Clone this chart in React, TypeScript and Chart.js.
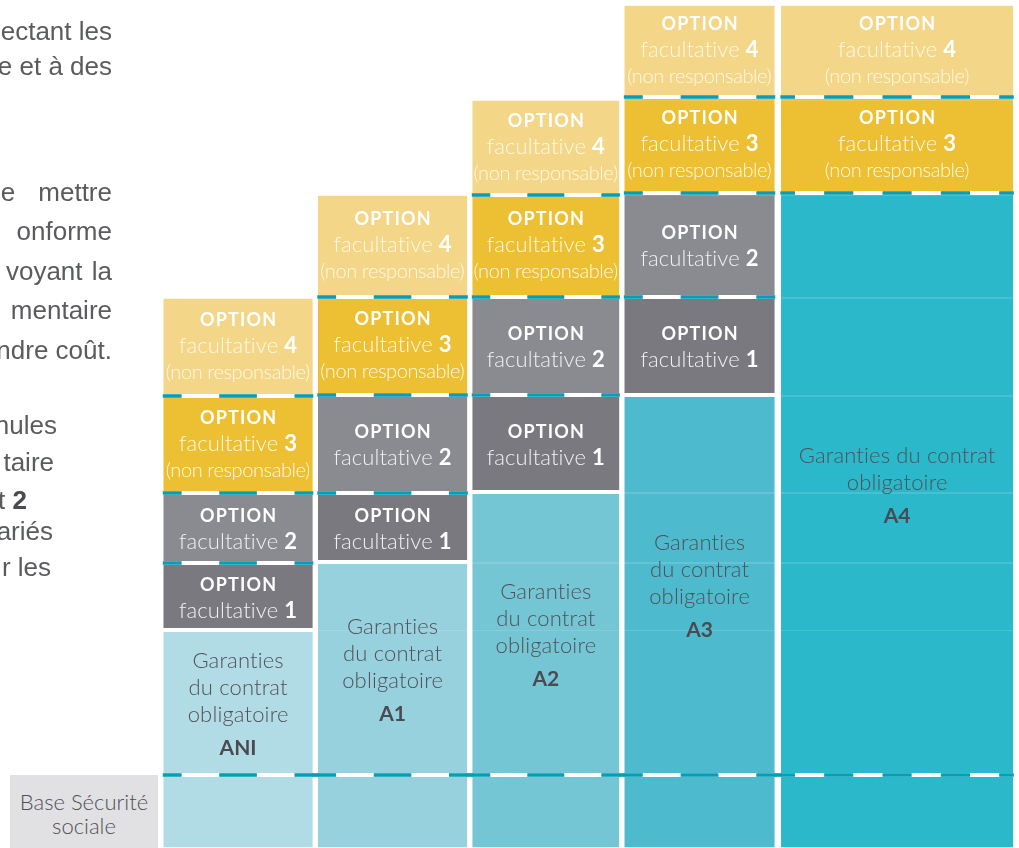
import React, { useEffect, useRef } from 'react';
import { Chart, registerables } from 'chart.js';

Chart.register(...registerables);

// ---------- data ----------
const categories = ['ANI', 'A1', 'A2', 'A3', 'A4'];
const baseSecuriteSociale = [73, 73, 73, 73, 73];
const garantiesContrat = [145, 213, 283, 380, 582];
const optionFacultative1: (number | null)[] = [67, 69, 97, 98, null];
const optionFacultative2: (number | null)[] = [70, 98, 98, 104, null];
const optionFacultative3: (number | null)[] = [97, 98, 102, 96, 96];
const optionFacultative4: (number | null)[] = [98, 102, 95, 92, 92];
const optionNumbers = ['1', '2', '3', '4'];
const optionNonResponsable = [false, false, true, true];
const garantiesLines = ['Garanties', 'du contrat', 'obligatoire'];
const garantiesLinesWide = ['Garanties du contrat', 'obligatoire'];
const baseLabelLines = ['Base Sécurité', 'sociale'];
const sideTextLines = ['ectant les', 'e et à des', 'e mettre', 'onforme', 'voyant la', 'mentaire', 'ndre coût.', 'nules', 'taire', 't ', 'ariés', 'r les'];
const sideTextBold = ['', '', '', '', '', '', '', '', '', '2', '', ''];

// ---------- layout / style ----------
const W = 1019;
const H = 848;
const COLUMN_UNITS = [1, 1, 0.984, 1.006, 1.551];
const PX_PER_UNIT = 154.5;
const PLOT_LEFT_PX = 160.8;
const BAR_PERCENT = 0.974;
const SIDE_LAYOUT = [
  { right: 112, base: 40, ws: 0 },
  { right: 112, base: 75, ws: 0 },
  { right: 112, base: 201, ws: 16 },
  { right: 112, base: 240, ws: 0 },
  { right: 112, base: 280, ws: 2 },
  { right: 112, base: 319, ws: 0 },
  { right: 112, base: 359, ws: 0 },
  { right: 57, base: 434, ws: 0 },
  { right: 54, base: 471, ws: 0 },
  { right: 27, base: 509, ws: 0 },
  { right: 53, base: 540, ws: 0 },
  { right: 51, base: 576, ws: 0 },
];
const GAR_COLORS = ['#B2DCE5', '#97D1DD', '#75C6D4', '#4EBACE', '#2BB8CB'];
const OPT_COLORS = ['#7A7980', '#8A8A91', '#ECC032', '#F3D687'];
const TEAL = '#069EB6';
const FONT = 'Lato, "Open Sans", sans-serif';

// x centres so that "flex" bars tile the given unit widths
function columnCentres(): number[] {
  const bounds = [0];
  COLUMN_UNITS.forEach((u) => bounds.push(bounds[bounds.length - 1] + u));
  const c: number[] = [];
  c[0] = (bounds[0] + bounds[1]) / 2;
  c[1] = c[0] + (bounds[1] - bounds[0]);
  for (let i = 2; i <= COLUMN_UNITS.length; i++) c[i] = 2 * bounds[i] - c[i - 1];
  return c;
}

type Run = { text: string; weight: number; size: number; color: string; spacing?: number };

function drawRuns(ctx: CanvasRenderingContext2D, cx: number, baseline: number, runs: Run[]) {
  const widths = runs.map((r) => {
    ctx.font = `${r.weight} ${r.size}px ${FONT}`;
    (ctx as any).letterSpacing = `${r.spacing || 0}px`;
    return ctx.measureText(r.text).width - (r.spacing || 0);
  });
  const total = widths.reduce((a, b) => a + b, 0);
  let x = cx - total / 2;
  runs.forEach((r, i) => {
    ctx.font = `${r.weight} ${r.size}px ${FONT}`;
    (ctx as any).letterSpacing = `${r.spacing || 0}px`;
    ctx.fillStyle = r.color;
    ctx.fillText(r.text, x, baseline);
    x += widths[i];
  });
  (ctx as any).letterSpacing = '0px';
}

const decorPlugin = {
  id: 'decor',
  afterDatasetsDraw(chart: any) {
    const ctx: CanvasRenderingContext2D = chart.ctx;
    const n = categories.length;
    const seg = (k: number, j: number) => {
      const pt = chart.data.datasets[k].data[j];
      if (!pt || pt.y === null || pt.y === undefined) return null;
      const el = chart.getDatasetMeta(k).data[j];
      const p = el.getProps(['x', 'y', 'base', 'width'], true);
      return {
        left: p.x - p.width / 2,
        right: p.x + p.width / 2,
        width: p.width,
        top: Math.min(p.y, p.base),
        bottom: Math.max(p.y, p.base),
        cx: p.x,
        cy: (p.y + p.base) / 2,
      };
    };
    ctx.save();
    ctx.textAlign = 'left';
    ctx.textBaseline = 'alphabetic';

    // faint level lines
    const first = seg(0, 0)!;
    const last = seg(0, n - 1)!;
    const levels = new Set<number>();
    for (let j = 0; j < n; j++) for (let k = 1; k < 6; k++) {
      const s = seg(k, j);
      if (s) levels.add(Math.round(s.top) + 0.5);
    }
    ctx.strokeStyle = 'rgba(255,255,255,0.13)';
    ctx.lineWidth = 1;
    levels.forEach((y) => {
      ctx.beginPath();
      ctx.moveTo(first.left, y);
      ctx.lineTo(last.right, y);
      ctx.stroke();
    });

    const dashes = (left: number, right: number, y: number) => {
      const w = right - left;
      const units = 2 * Math.max(1, Math.round(w / 66));
      const u = w / units;
      const t = 3.6;
      ctx.fillStyle = TEAL;
      ctx.fillRect(left, y - t / 2, u / 2, t);
      for (let m = 0; ; m++) {
        const s = left + u / 2 + u + 2 * u * m;
        if (s + u > right - u / 2 + 0.01) break;
        ctx.fillRect(s, y - t / 2, u, t);
      }
      ctx.fillRect(right - u / 2, y - t / 2, u / 2, t);
    };

    // separating bands and dashed lines
    for (let j = 0; j < n; j++) {
      for (let k = 1; k < 6; k++) {
        const s = seg(k, j);
        if (!s) continue;
        ctx.fillStyle = '#FFFFFF';
        ctx.fillRect(s.left, s.bottom - 2, s.width, 4);
        if (k !== 2) dashes(s.left, s.right, s.bottom);
      }
    }
    // base line continues across the column gaps
    for (let j = 0; j < n - 1; j++) {
      const a = seg(1, j)!;
      const b = seg(1, j + 1)!;
      ctx.fillStyle = TEAL;
      ctx.fillRect(a.right - 1, a.bottom - 1.8, b.left - a.right + 2, 3.6);
    }

    // labels
    for (let j = 0; j < n; j++) {
      const g = seg(1, j)!;
      const lines = g.width > 200 ? garantiesLinesWide : garantiesLines;
      const gc = '#515159';
      const b0 = lines.length === 3 ? g.cy - 35 : g.cy - 21.5;
      lines.forEach((t, i) => drawRuns(ctx, g.cx, b0 + 27 * i, [{ text: t, weight: 300, size: 22, color: gc, spacing: 0.15 }]));
      drawRuns(ctx, g.cx, b0 + 27 * (lines.length - 1) + 33, [{ text: categories[j], weight: 700, size: 21, color: '#4A4A52' }]);

      for (let o = 0; o < 4; o++) {
        const s = seg(o + 2, j);
        if (!s) continue;
        const nr = optionNonResponsable[o];
        const light = nr ? '#FFF8E4' : '#F1F1F3';
        const bold = '#FFFFFF';
        const opt: Run = { text: 'OPTION', weight: 700, size: 18, color: bold, spacing: 1.2 };
        const fac: Run[] = [
          { text: 'facultative ', weight: 300, size: 22, color: light, spacing: 0.1 },
          { text: optionNumbers[o], weight: 700, size: 22, color: bold },
        ];
        if (nr) {
          drawRuns(ctx, s.cx, s.cy - 21, [opt]);
          drawRuns(ctx, s.cx, s.cy + 6, fac);
          drawRuns(ctx, s.cx, s.cy + 32, [{ text: '(non responsable)', weight: 300, size: 20, color: light, spacing: -0.4 }]);
        } else {
          drawRuns(ctx, s.cx, s.cy - 6, [opt]);
          drawRuns(ctx, s.cx, s.cy + 21, fac);
        }
      }
    }
    ctx.restore();
  },
};

export default function App() {
  const canvasRef = useRef<HTMLCanvasElement | null>(null);

  useEffect(() => {
    const canvas = canvasRef.current;
    if (!canvas) return;
    const centres = columnCentres();
    const toPoints = (vals: (number | null)[]) => {
      const pts = vals.map((v, i) => ({ x: centres[i], y: v }));
      pts.push({ x: centres[vals.length], y: null });
      return pts;
    };
    const common = {
      barThickness: 'flex' as const,
      barPercentage: BAR_PERCENT,
      categoryPercentage: 1,
      borderWidth: 1,
      borderSkipped: false as const,
      borderColor: 'rgba(255,255,255,0.45)',
    };
    const xMin = -PLOT_LEFT_PX / PX_PER_UNIT;
    const xMax = xMin + W / PX_PER_UNIT;
    const chart = new Chart(canvas, {
      type: 'bar',
      data: {
        datasets: [
          { label: 'Base Sécurité sociale', data: toPoints(baseSecuriteSociale), backgroundColor: GAR_COLORS, ...common },
          { label: 'Garanties du contrat obligatoire', data: toPoints(garantiesContrat), backgroundColor: GAR_COLORS, ...common },
          { label: 'Option facultative 1', data: toPoints(optionFacultative1), backgroundColor: OPT_COLORS[0], ...common },
          { label: 'Option facultative 2', data: toPoints(optionFacultative2), backgroundColor: OPT_COLORS[1], ...common },
          { label: 'Option facultative 3 (non responsable)', data: toPoints(optionFacultative3), backgroundColor: OPT_COLORS[2], ...common },
          { label: 'Option facultative 4 (non responsable)', data: toPoints(optionFacultative4), backgroundColor: OPT_COLORS[3], ...common },
        ] as any,
      },
      options: {
        responsive: false,
        animation: false,
        events: [],
        layout: { padding: 0 },
        plugins: { legend: { display: false }, tooltip: { enabled: false } },
        scales: {
          x: { type: 'linear', display: false, min: xMin, max: xMax, offset: false, stacked: true },
          y: { display: false, min: 0, max: H, stacked: true },
        },
      } as any,
      plugins: [decorPlugin],
    });
    return () => chart.destroy();
  }, []);

  const sideFont = 26;
  return (
    <div style={{ position: 'absolute', left: 0, top: 0, width: W, height: H, overflow: 'hidden', background: '#FFFFFF' }}>
      <canvas ref={canvasRef} width={W} height={H} style={{ position: 'absolute', left: 0, top: 0, width: W, height: H }} />
      {sideTextLines.map((t, i) => (
        <div
          key={i}
          style={{
            position: 'absolute',
            right: W - SIDE_LAYOUT[i].right,
            top: SIDE_LAYOUT[i].base - sideFont * 0.845,
            fontFamily: '"Liberation Sans", Arial, sans-serif',
            fontSize: sideFont,
            lineHeight: `${sideFont}px`,
            color: '#5A5B5E',
            whiteSpace: 'pre',
            wordSpacing: SIDE_LAYOUT[i].ws,
          }}
        >
          {t}
          {sideTextBold[i] ? <b style={{ color: '#4A4B4E' }}>{sideTextBold[i]}</b> : null}
        </div>
      ))}
      <div
        style={{
          position: 'absolute',
          left: 10,
          top: 775,
          width: 148,
          height: 80,
          background: '#E1E1E3',
          fontFamily: FONT,
          fontWeight: 300,
          fontSize: 22,
          lineHeight: '24px',
          color: '#505057',
          textAlign: 'center',
          paddingTop: 15,
          boxSizing: 'border-box',
        }}
      >
        {baseLabelLines.map((l, i) => (
          <div key={i}>{l}</div>
        ))}
      </div>
    </div>
  );
}
